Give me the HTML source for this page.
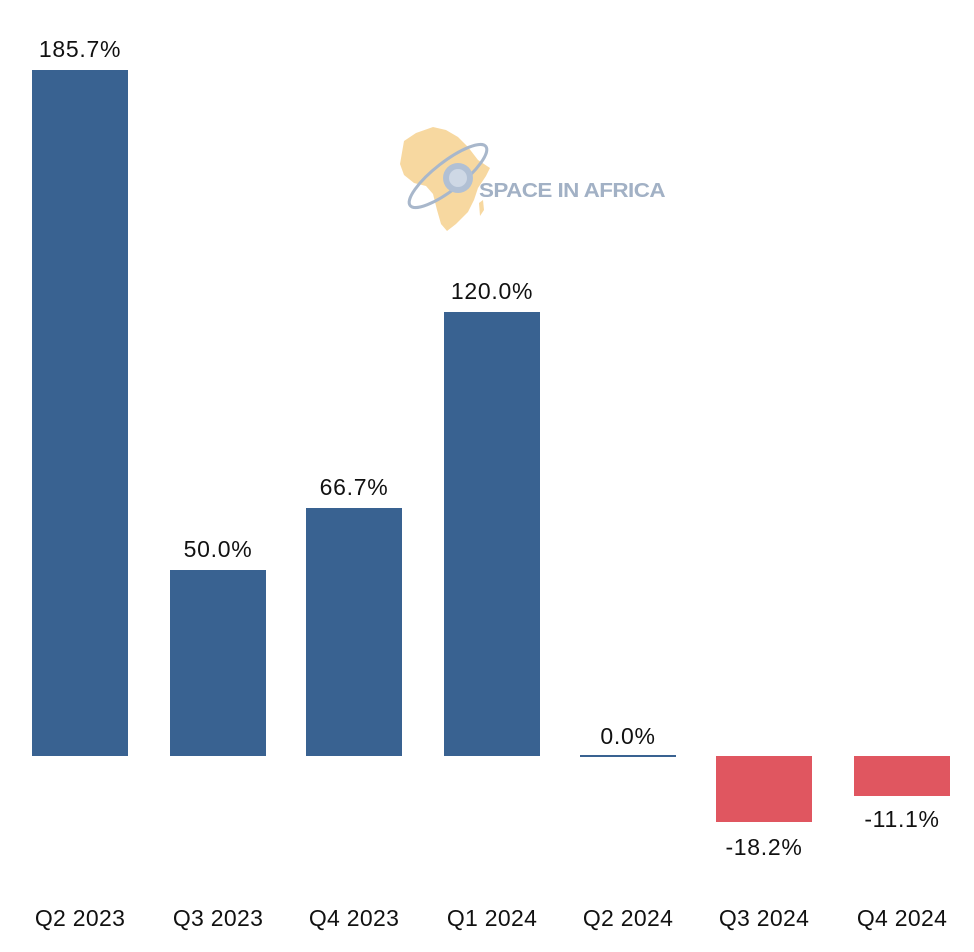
<!DOCTYPE html>
<html><head><meta charset="utf-8"><style>
html,body{margin:0;padding:0;background:#fff;}
svg{display:block;}
text{font-family:"Liberation Sans",sans-serif;fill:#111;}
</style></head><body>
<svg width="974" height="952" viewBox="0 0 974 952" xmlns="http://www.w3.org/2000/svg">
<rect width="974" height="952" fill="#fff"/>
<!-- logo -->
<g opacity="0.9">
<path d="M404,141 L416,133 L433,127 L446,130 L458,137 L468,147 L478,160 L490,168 L486,176 L478,188 L474,200 L468,212 L456,224 L447,231 L441,224 L437,210 L433,194 L426,186 L414,183 L404,175 L400,164 Z" fill="#f7d496"/>
<path d="M479,203 L483,200 L484,210 L480,216 Z" fill="#f7d496"/>
<ellipse cx="448" cy="176" rx="48" ry="14" transform="rotate(-38 448 176)" fill="none" stroke="#9fb0c6" stroke-width="3"/>
<circle cx="458" cy="178" r="15" fill="#a9bad0"/>
<circle cx="458" cy="178" r="9" fill="#c9d4e3"/>
<text x="479" y="197" font-size="20" font-weight="bold" style="fill:#98a9bf;letter-spacing:-0.5px" textLength="186" lengthAdjust="spacingAndGlyphs">SPACE IN AFRICA</text>
</g>
<!-- bars -->
<g fill="#396291">
<rect x="32" y="70" width="96" height="686"/>
<rect x="170" y="570" width="96" height="186"/>
<rect x="306" y="508" width="96" height="248"/>
<rect x="444" y="312" width="96" height="444"/>
<rect x="580" y="755" width="96" height="2"/>
</g>
<g fill="#e05660">
<rect x="716" y="756" width="96" height="66"/>
<rect x="854" y="756" width="96" height="40"/>
</g>
<!-- value labels -->
<g font-size="23" text-anchor="middle" style="letter-spacing:0.7px">
<text x="80" y="57">185.7%</text>
<text x="218" y="557">50.0%</text>
<text x="354" y="495">66.7%</text>
<text x="492" y="299">120.0%</text>
<text x="628" y="744">0.0%</text>
<text x="764" y="855">-18.2%</text>
<text x="902" y="827">-11.1%</text>
</g>
<!-- category labels -->
<g font-size="23" text-anchor="middle" style="letter-spacing:0.3px">
<text x="80" y="926">Q2 2023</text>
<text x="218" y="926">Q3 2023</text>
<text x="354" y="926">Q4 2023</text>
<text x="492" y="926">Q1 2024</text>
<text x="628" y="926">Q2 2024</text>
<text x="764" y="926">Q3 2024</text>
<text x="902" y="926">Q4 2024</text>
</g>
</svg>
</body></html>
